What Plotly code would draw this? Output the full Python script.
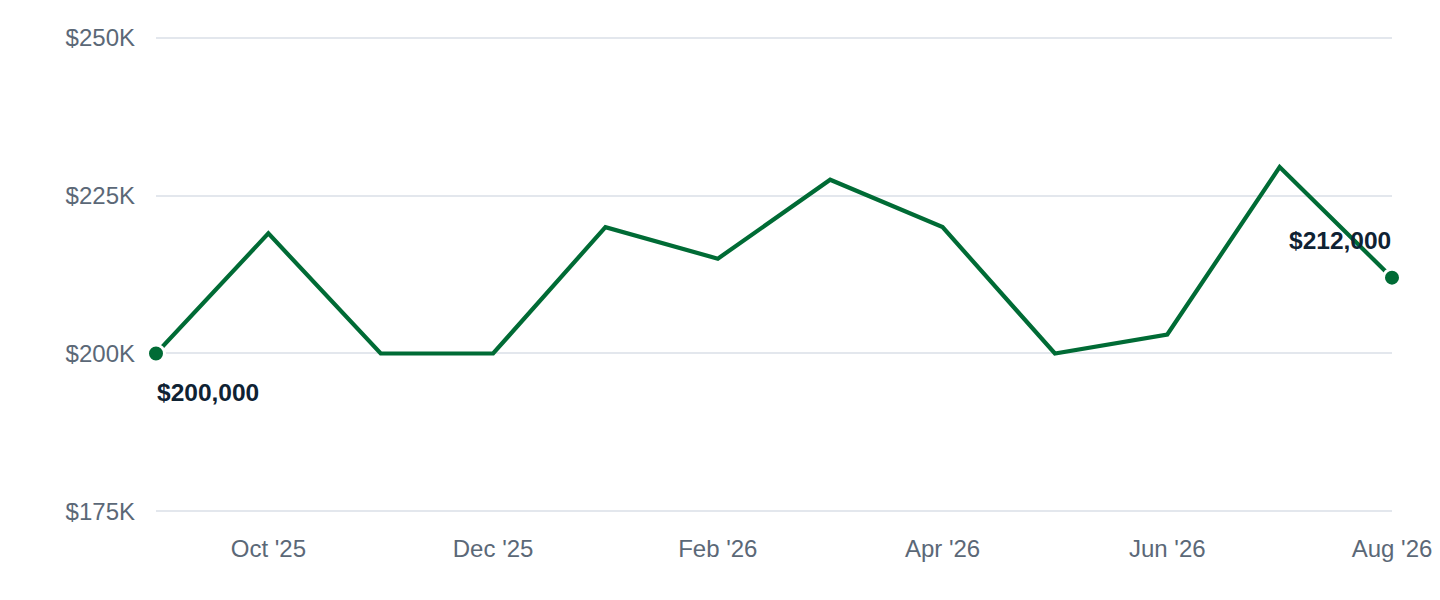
import plotly.graph_objects as go

months = ["Sep '25", "Oct '25", "Nov '25", "Dec '25", "Jan '26", "Feb '26",
          "Mar '26", "Apr '26", "May '26", "Jun '26", "Jul '26", "Aug '26"]
values = [200000, 219000, 200000, 200000, 220000, 215000,
          227500, 220000, 200000, 203000, 229500, 212000]
tick_months = ["Oct '25", "Dec '25", "Feb '26", "Apr '26", "Jun '26", "Aug '26"]
y_ticks = [175000, 200000, 225000, 250000]
y_labels = ["$175K", "$200K", "$225K", "$250K"]

green = "#006b35"
font = "Helvetica, Arial, 'Liberation Sans', sans-serif"

fig = go.Figure()
fig.add_trace(go.Scatter(x=months, y=values, mode="lines",
                         line=dict(color=green, width=4.2),
                         hoverinfo="skip", cliponaxis=False))
ends_x = [months[0], months[-1]]
ends_y = [values[0], values[-1]]
fig.add_trace(go.Scatter(x=ends_x, y=ends_y, mode="markers",
                         marker=dict(color=green, size=17,
                                     line=dict(color="white", width=3)),
                         cliponaxis=False))

fig.add_annotation(x=ends_x[0], y=ends_y[0], text="<b>${:,}</b>".format(ends_y[0]),
                   showarrow=False, xanchor="left", yanchor="middle", yshift=-39, xshift=-1,
                   font=dict(size=24.5, color="#0f2233", family=font))
fig.add_annotation(x=ends_x[1], y=ends_y[1], text="<b>${:,}</b>".format(ends_y[1]),
                   showarrow=False, xanchor="right", yanchor="middle", yshift=37, xshift=1,
                   font=dict(size=24.5, color="#0f2233", family=font))

# page body adds ~8px offset, so the figure is sized to fit inside it
fig.update_layout(
    width=1428, height=584,
    margin=dict(l=148, r=44, t=27, b=78),
    plot_bgcolor="white", paper_bgcolor="white",
    showlegend=False,
    font=dict(family=font, size=24, color="#5b6877"),
)
fig.update_xaxes(type="category", range=[0, len(months) - 1],
                 tickvals=tick_months, showgrid=False, zeroline=False,
                 showline=False, ticks="", ticklabelstandoff=18, automargin=False)
# small padding so the edge gridlines are not dropped
fig.update_yaxes(range=[y_ticks[0] - 400, y_ticks[-1] + 400], tickvals=y_ticks, ticktext=y_labels,
                 showgrid=True, gridcolor="#e3e7ed", gridwidth=2, zeroline=False,
                 showline=False, ticks="", ticklabelstandoff=20, automargin=False)

fig.write_html("out.html")
